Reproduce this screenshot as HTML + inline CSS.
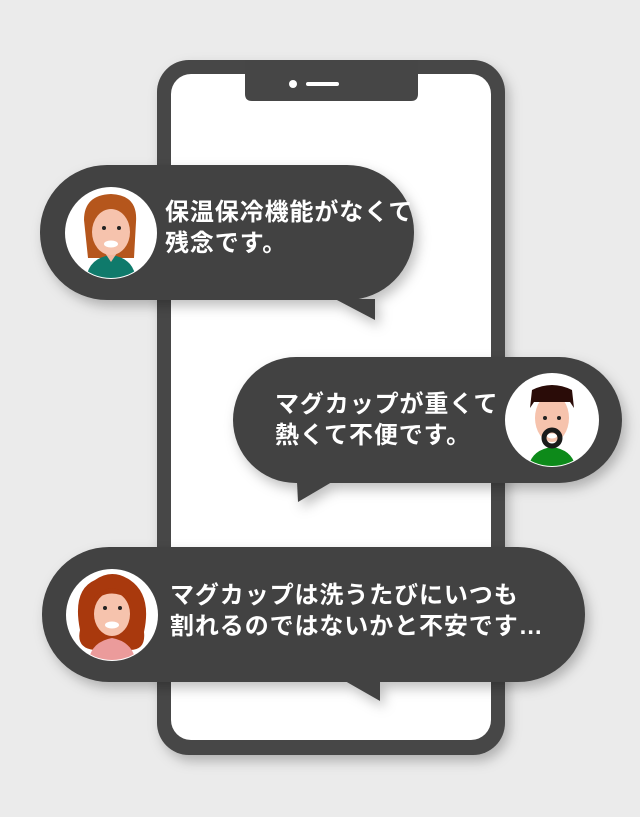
<!DOCTYPE html>
<html><head><meta charset="utf-8"><style>
html,body{margin:0;padding:0;background:#ebebeb;}
body{width:640px;height:817px;position:relative;overflow:hidden;font-family:"Liberation Sans","Noto Sans CJK JP",sans-serif;}
.t{position:absolute;color:#fff;font-weight:bold;font-size:24px;line-height:31px;white-space:nowrap;letter-spacing:0.9px;}
</style></head><body>
<svg width="640" height="817" style="position:absolute;left:0;top:0">
<defs>
<filter id="sh" x="-20%" y="-20%" width="140%" height="150%"><feDropShadow dx="4" dy="6" stdDeviation="6" flood-color="#000" flood-opacity="0.25"/></filter>
</defs>
<rect x="157" y="60" width="348" height="695" rx="32" fill="#464646" filter="url(#sh)"/>
<rect x="171" y="74" width="320" height="666" rx="20" fill="#fff"/>
<path d="M245 60 H418 V94 Q418 101 411 101 H252 Q245 101 245 94 Z" fill="#464646"/>
<circle cx="293" cy="84" r="4" fill="#fff"/>
<rect x="306" y="82" width="33" height="4" rx="2" fill="#fff"/>
<g filter="url(#sh)">
<rect x="40" y="165" width="374" height="135" rx="67" fill="#424242"/>
<path d="M335 299 L375 320 L375 299 Z" fill="#424242"/>
</g>
<g filter="url(#sh)">
<rect x="233" y="357" width="389" height="126" rx="63" fill="#424242"/>
<path d="M297 482 L298 502 L332 482 Z" fill="#424242"/>
</g>
<g filter="url(#sh)">
<rect x="42" y="547" width="543" height="135" rx="67" fill="#424242"/>
<path d="M345 681 L380 701 L380 681 Z" fill="#424242"/>
</g>
<clipPath id="c1"><circle cx="111" cy="233" r="45"/></clipPath>
<circle cx="111" cy="233" r="46" fill="#fff"/>
<g clip-path="url(#c1)">
<path d="M84 220 Q84 195 111 194 Q138 195 136 222 L134 258 L88 258 Z" fill="#b5561c"/>
<path d="M86 280 Q88 258 111 255 Q134 258 136 280 Z" fill="#0f7a6b"/>
<path d="M103 250 L111 262 L119 250 Z" fill="#f2b8a0"/>
<ellipse cx="111" cy="232" rx="19" ry="23" fill="#f6c3ad"/>
<path d="M90 218 Q100 200 126 212 L131 220 Q128 200 111 198 Q88 200 90 218Z" fill="#b5561c"/>
<circle cx="104" cy="228" r="2" fill="#222"/><circle cx="119" cy="228" r="2" fill="#222"/>
<ellipse cx="111" cy="244" rx="7" ry="3.5" fill="#fff"/>
</g>
<clipPath id="c2"><circle cx="552" cy="420" r="46"/></clipPath>
<circle cx="552" cy="420" r="47" fill="#fff"/>
<g clip-path="url(#c2)">
<path d="M528 470 Q530 450 552 447 Q574 450 576 470 Z" fill="#0d8a1a"/>
<ellipse cx="552" cy="418" rx="17" ry="24" fill="#f6c3ad"/>
<path d="M530 408 L532 390 Q552 380 572 390 L574 408 L570 402 L534 402 Z" fill="#2a0c08"/>
<circle cx="545" cy="418" r="2" fill="#222"/><circle cx="559" cy="418" r="2" fill="#222"/>
<ellipse cx="552" cy="438" rx="8" ry="8" fill="none" stroke="#1a1a1a" stroke-width="5"/>
<ellipse cx="552" cy="436" rx="5" ry="2.5" fill="#fff"/>
</g>
<clipPath id="c3"><circle cx="112" cy="615" r="45"/></clipPath>
<circle cx="112" cy="615" r="46" fill="#fff"/>
<g clip-path="url(#c3)">
<path d="M80 630 Q72 590 95 580 Q112 568 130 580 Q152 595 144 632 Q146 650 130 650 L94 650 Q76 648 80 630Z" fill="#a9390d"/>
<path d="M88 664 Q90 642 112 638 Q134 642 136 664 Z" fill="#eb9b9b"/>
<ellipse cx="112" cy="614" rx="18" ry="22" fill="#f6c3ad"/>
<path d="M92 602 Q112 585 132 602 Q126 590 112 588 Q96 590 92 602Z" fill="#a9390d"/>
<circle cx="105" cy="608" r="2" fill="#222"/><circle cx="120" cy="608" r="2" fill="#222"/>
<ellipse cx="112" cy="625" rx="7" ry="3.5" fill="#fff"/>
</g>
</svg>
<div class="t" style="left:165px;top:197px">保温保冷機能がなくて<br>残念です。</div>
<div class="t" style="left:275px;top:389px">マグカップが重くて<br>熱くて不便です。</div>
<div class="t" style="left:170px;top:580px">マグカップは洗うたびにいつも<br>割れるのではないかと不安です…</div>
</body></html>
